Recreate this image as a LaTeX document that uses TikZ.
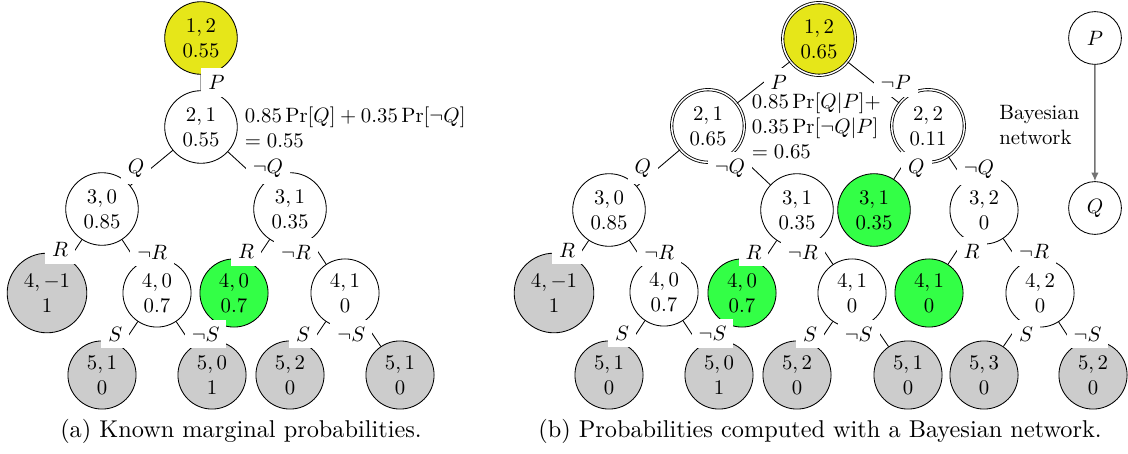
\documentclass[tikz,border=0pt]{standalone}
\usetikzlibrary{arrows.meta}
\definecolor{nodeyellow}{RGB}{230,230,25}
\definecolor{nodegreen}{RGB}{51,255,70}
\definecolor{leafgray}{RGB}{204,204,204}
\tikzset{
  tn/.style={circle, draw, align=center, line width=0.35pt},
  yel/.style={tn, fill=nodeyellow},
  grn/.style={tn, fill=nodegreen},
  lf/.style={tn, fill=leafgray},
  dbl/.style={double, double distance=0.6pt},
  el/.style={fill=white},
  ed/.style={line width=0.35pt},
  bn/.style={circle, draw, line width=0.35pt, minimum size=25.4pt, inner sep=1pt},
}
\begin{document}
\begin{tikzpicture}[x=0.4115pt, y=-0.4115pt]
\useasboundingbox (0,0) rectangle (1128,454);
\begin{scope}[x=0.4813pt, y=-0.4813pt, scale=0.855, transform shape]
% ---------- (a) ----------
\node[yel] (a1) at (201,38) {$1,2$\\$0.55$};
\node[tn]  (a2) at (201,127) {$2,1$\\$0.55$};
\node[tn]  (a3) at (102,209) {$3,0$\\$0.85$};
\node[tn]  (a4) at (290,209) {$3,1$\\$0.35$};
\node[lf]  (a5) at (47,293) {$4,-1$\\$1$};
\node[tn]  (a6) at (157,293) {$4,0$\\$0.7$};
\node[grn] (a7) at (234,293) {$4,0$\\$0.7$};
\node[tn]  (a8) at (345,293) {$4,1$\\$0$};
\node[lf]  (a9) at (102,375) {$5,1$\\$0$};
\node[lf]  (a10) at (212,375) {$5,0$\\$1$};
\node[lf]  (a11) at (290,375) {$5,2$\\$0$};
\node[lf]  (a12) at (400,375) {$5,1$\\$0$};
\draw[ed] (a1) -- node[el,right]{$P$} (a2);
\draw[ed] (a2) -- node[el,left]{$Q$} (a3);
\draw[ed] (a2) -- node[el,right]{$\neg Q$} (a4);
\draw[ed] (a3) -- node[el,left]{$R$} (a5);
\draw[ed] (a3) -- node[el,right]{$\neg R$} (a6);
\draw[ed] (a4) -- node[el,left]{$R$} (a7);
\draw[ed] (a4) -- node[el,left]{$\neg R$} (a8);
\draw[ed] (a6) -- node[el,left]{$S$} (a9);
\draw[ed] (a6) -- node[el,right]{$\neg S$} (a10);
\draw[ed] (a8) -- node[el,left]{$S$} (a11);
\draw[ed] (a8) -- node[el,left]{$\neg S$} (a12);
\node[right, align=left] (ann-a) at (a2.east) {$0.85\Pr[Q]+0.35\Pr[\neg Q]$\\$=0.55$};
% ---------- (b) ----------
\node[yel,dbl] (b1) at (819,39) {$1,2$\\$0.65$};
\node[tn,dbl]  (b2) at (708,126) {$2,1$\\$0.65$};
\node[tn,dbl]  (b3) at (928,126) {$2,2$\\$0.11$};
\node[tn]  (b4) at (609,210) {$3,0$\\$0.85$};
\node[tn]  (b5) at (797,210) {$3,1$\\$0.35$};
\node[grn] (b6) at (874,210) {$3,1$\\$0.35$};
\node[tn]  (b7) at (984,210) {$3,2$\\$0$};
\node[lf]  (b8) at (554,293) {$4,-1$\\$1$};
\node[tn]  (b9) at (664,292) {$4,0$\\$0.7$};
\node[grn] (b10) at (742,293) {$4,0$\\$0.7$};
\node[tn]  (b11) at (852,293) {$4,1$\\$0$};
\node[grn] (b12) at (929,293) {$4,1$\\$0$};
\node[tn]  (b13) at (1040,293) {$4,2$\\$0$};
\node[lf]  (b14) at (609,375) {$5,1$\\$0$};
\node[lf]  (b15) at (719,375) {$5,0$\\$1$};
\node[lf]  (b16) at (797,375) {$5,2$\\$0$};
\node[lf]  (b17) at (908,375) {$5,1$\\$0$};
\node[lf]  (b18) at (984,375) {$5,3$\\$0$};
\node[lf]  (b19) at (1093,375) {$5,2$\\$0$};
\draw[ed] (b1) -- node[el,right]{$P$} (b2);
\draw[ed] (b1) -- node[el,right]{$\neg P$} (b3);
\draw[ed] (b2) -- node[el,left]{$Q$} (b4);
\draw[ed] (b2) -- node[el,left]{$\neg Q$} (b5);
\draw[ed] (b3) -- node[el,right]{$Q$} (b6);
\draw[ed] (b3) -- node[el,right]{$\neg Q$} (b7);
\draw[ed] (b4) -- node[el,left]{$R$} (b8);
\draw[ed] (b4) -- node[el,right]{$\neg R$} (b9);
\draw[ed] (b5) -- node[el,left]{$R$} (b10);
\draw[ed] (b5) -- node[el,left]{$\neg R$} (b11);
\draw[ed] (b7) -- node[el,right]{$R$} (b12);
\draw[ed] (b7) -- node[el,right]{$\neg R$} (b13);
\draw[ed] (b9) -- node[el,left]{$S$} (b14);
\draw[ed] (b9) -- node[el,right]{$\neg S$} (b15);
\draw[ed] (b11) -- node[el,left]{$S$} (b16);
\draw[ed] (b11) -- node[el,left]{$\neg S$} (b17);
\draw[ed] (b13) -- node[el,right]{$S$} (b18);
\draw[ed] (b13) -- node[el,right]{$\neg S$} (b19);
\node[right, align=left] (ann-b) at (b2.east) {$0.85\Pr[Q|P]+$\\$0.35\Pr[\neg Q|P]$\\$=0.65$};
% ---------- Bayesian network ----------
\node[bn] (bp) at (1095,38) {$P$};
\node[bn] (bq) at (1095,208) {$Q$};
\draw[draw=black!55, line width=0.6pt, -{Latex[length=3.5pt,width=3pt]}] (bp) -- (bq);
\node[anchor=west, align=left] (bntext) at (992,125) {Bayesian\\network};
\end{scope}
% ---------- captions ----------
\node[anchor=base] (capa) at (241,438) {(a) Known marginal probabilities.};
\node[anchor=base] (capb) at (820,438) {(b) Probabilities computed with a Bayesian network.};
\end{tikzpicture}
\end{document}
